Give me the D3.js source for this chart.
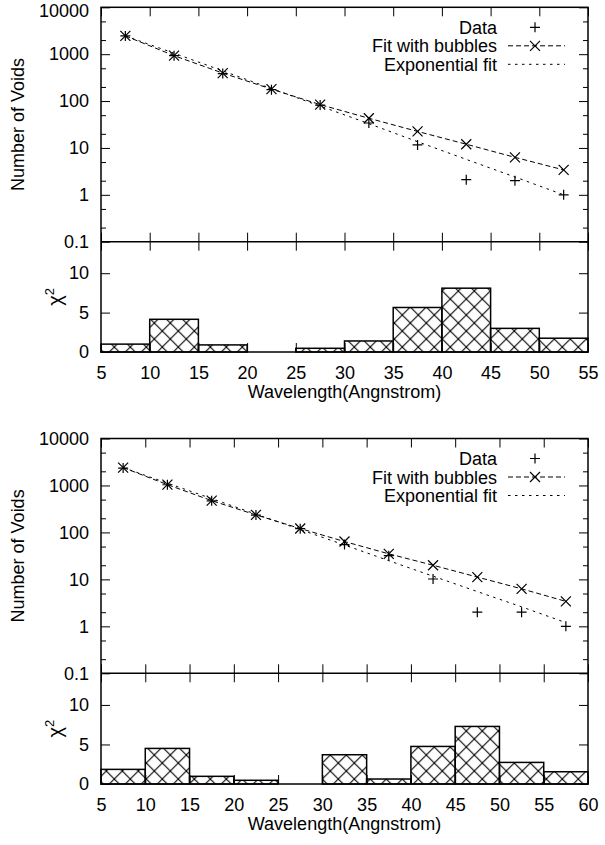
<!DOCTYPE html>
<html>
<head>
<meta charset="utf-8">
<script src="https://cdn.jsdelivr.net/npm/d3@7"></script>
<style>
  body { margin: 0; background: #fff; }
  svg { display: block; font-family: "Liberation Sans", Arial, sans-serif; }
  .axis path.domain { display: none; }
  .axis line { stroke: #000; stroke-width: 1; }
  .axis text { font-size: 18px; fill: #000; font-family: "Liberation Sans", Arial, sans-serif; }
</style>
</head>
<body>
<div id="chart"></div>
<script>
// ---- data ----
// panel A (5..55)
const xA = [7.5, 12.5, 17.5, 22.5, 27.5, 32.5, 37.5, 42.5, 47.5, 52.5];
const dataA = [2450, 930, 385, 175, 82, 34, 11.6, 2.1, 2.0, 1.0];
const bubblesA = [2450, 930, 395, 180, 84, 43, 22.5, 12, 6.3, 3.4];
const expA = [2450, 1050, 440, 185, 78, 33, 13.6, 5.7, 2.4, 1.0];
const binsA = [5, 10, 15, 20, 25, 30, 35, 40, 45, 50];
const chiA = [1.0, 4.15, 0.9, 0, 0.47, 1.4, 5.65, 8.1, 3.0, 1.75];

// panel B (5..60)
const xB = [7.5, 12.5, 17.5, 22.5, 27.5, 32.5, 37.5, 42.5, 47.5, 52.5, 57.5];
const dataB = [2350, 1035, 470, 234, 120, 55, 32, 10.2, 2.0, 2.0, 1.0];
const bubblesB = [2400, 1040, 475, 236, 121, 64, 35, 20, 11.2, 6.3, 3.4];
const expB = [2400, 1120, 525, 245, 115, 54, 25, 11.7, 5.5, 2.6, 1.2];
const binsB = [5, 10, 15, 20, 25, 30, 35, 40, 45, 50, 55];
const chiB = [1.85, 4.5, 0.97, 0.47, 0, 3.7, 0.63, 4.75, 7.28, 2.73, 1.55];

const binWidth = 5;
const logTicks = [0.1, 1, 10, 100, 1000, 10000];
const logMinor = [0.2, 0.5, 2, 5, 20, 50, 200, 500, 2000, 5000];
const chiTicks = [0, 5, 10];
const legendLabels = ["Data", "Fit with bubbles", "Exponential fit"];

const W = 605, H = 845;
const svg = d3.select("#chart").append("svg")
  .attr("width", W).attr("height", H)
  .attr("viewBox", `0 0 ${W} ${H}`);

// crosshatch pattern (16px diamonds, like gnuplot's pattern fill)
const pat = svg.append("defs").append("pattern")
  .attr("id", "hatch")
  .attr("patternUnits", "userSpaceOnUse")
  .attr("x", 2.3).attr("y", 11)
  .attr("width", 16).attr("height", 16);
pat.append("path")
  .attr("d", "M-2,-2L18,18M18,-2L-2,18")
  .attr("stroke", "#000")
  .attr("stroke-width", 1.1)
  .attr("fill", "none");

const drawPanel = (cfg) => {
  const { xs, data, bubbles, expf, bins, chi, xMax, top, mid, bottom, topNudge } = cfg;
  const left = 101, right = 588;

  const x = d3.scaleLinear().domain([5, xMax]).range([left, right]);
  const y = d3.scaleLog().domain([0.1, 10000]).range([mid, top]);
  const yc = d3.scaleLinear().domain([0, 14]).range([bottom, mid]);

  const g = svg.append("g");
  const xTickVals = d3.range(5, xMax + 0.1, 5);

  // chi2 bars
  g.append("g").selectAll("rect")
    .data(bins.map((b, i) => ({ b, v: chi[i] })).filter(d => d.v > 0))
    .join("rect")
    .attr("x", d => x(d.b))
    .attr("width", d => x(d.b + binWidth) - x(d.b))
    .attr("y", d => yc(d.v))
    .attr("height", d => yc(0) - yc(d.v))
    .attr("fill", "url(#hatch)")
    .attr("stroke", "#000")
    .attr("stroke-width", 1.5);

  // axes: log panel
  const yAxisG = g.append("g").attr("class", "axis")
    .attr("transform", `translate(${left},0)`)
    .call(d3.axisLeft(y).tickValues(logTicks).tickSize(-9).tickPadding(12)
      .tickFormat(d => d >= 1 ? d3.format("d")(d) : String(d)));
  // keep the top label inside the page
  yAxisG.selectAll(".tick text").filter(d => d === 10000)
    .attr("y", topNudge);
  g.append("g").attr("class", "axis")
    .attr("transform", `translate(${left},0)`)
    .call(d3.axisLeft(y).tickValues(logMinor).tickSize(-5).tickFormat(""));
  g.append("g").attr("class", "axis")
    .attr("transform", `translate(${right},0)`)
    .call(d3.axisRight(y).tickValues(logTicks).tickSize(-9).tickFormat(""));
  g.append("g").attr("class", "axis")
    .attr("transform", `translate(${right},0)`)
    .call(d3.axisRight(y).tickValues(logMinor).tickSize(-5).tickFormat(""));
  g.append("g").attr("class", "axis")
    .attr("transform", `translate(0,${top})`)
    .call(d3.axisTop(x).tickValues(xTickVals).tickSize(-9).tickFormat(""));
  g.append("g").attr("class", "axis")
    .attr("transform", `translate(0,${mid})`)
    .call(d3.axisBottom(x).tickValues(xTickVals).tickSize(-9).tickFormat(""));

  // axes: chi panel
  g.append("g").attr("class", "axis")
    .attr("transform", `translate(${left},0)`)
    .call(d3.axisLeft(yc).tickValues(chiTicks).tickSize(-9).tickPadding(12));
  g.append("g").attr("class", "axis")
    .attr("transform", `translate(${right},0)`)
    .call(d3.axisRight(yc).tickValues(chiTicks).tickSize(-9).tickFormat(""));
  g.append("g").attr("class", "axis")
    .attr("transform", `translate(0,${mid})`)
    .call(d3.axisTop(x).tickValues(xTickVals).tickSize(-9).tickFormat(""));
  g.append("g").attr("class", "axis")
    .attr("transform", `translate(0,${bottom})`)
    .call(d3.axisBottom(x).tickValues(xTickVals).tickSize(-9).tickPadding(14.5));

  // frames
  g.append("rect")
    .attr("x", left).attr("y", top)
    .attr("width", right - left).attr("height", bottom - top)
    .attr("fill", "none").attr("stroke", "#000").attr("stroke-width", 1.5);
  g.append("line")
    .attr("x1", left).attr("x2", right).attr("y1", mid).attr("y2", mid)
    .attr("stroke", "#000").attr("stroke-width", 1.5);

  // lines
  const line = d3.line().x(d => x(d[0])).y(d => y(d[1]));
  g.append("path")
    .attr("d", line(xs.map((v, i) => [v, expf[i]])))
    .attr("fill", "none").attr("stroke", "#000").attr("stroke-width", 1)
    .attr("stroke-dasharray", "2.5,4.5");
  g.append("path")
    .attr("d", line(xs.map((v, i) => [v, bubbles[i]])))
    .attr("fill", "none").attr("stroke", "#000").attr("stroke-width", 1)
    .attr("stroke-dasharray", "5,3");

  const plus = (sel, s) => sel.attr("d", `M${-s},0H${s}M0,${-s}V${s}`);
  const cross = (sel, s) => sel.attr("d", `M${-s},${-s}L${s},${s}M${-s},${s}L${s},${-s}`);

  g.append("g").selectAll("path")
    .data(xs.map((v, i) => [v, data[i]]))
    .join("path")
    .attr("transform", d => `translate(${x(d[0])},${y(d[1])})`)
    .call(plus, 5)
    .attr("stroke", "#000").attr("stroke-width", 1.2).attr("fill", "none");
  g.append("g").selectAll("path")
    .data(xs.map((v, i) => [v, bubbles[i]]))
    .join("path")
    .attr("transform", d => `translate(${x(d[0])},${y(d[1])})`)
    .call(cross, 5)
    .attr("stroke", "#000").attr("stroke-width", 1.2).attr("fill", "none");

  // legend
  const lg = g.append("g").attr("transform", `translate(0,${top})`);
  legendLabels.forEach((lab, i) => {
    const by = 26.5 + i * 18.5;
    lg.append("text")
      .attr("x", 497).attr("y", by)
      .attr("text-anchor", "end")
      .attr("font-size", 18)
      .text(lab);
    const cy = by - 6.5;
    if (i === 0) {
      lg.append("path").attr("transform", `translate(535,${cy})`).call(plus, 5)
        .attr("stroke", "#000").attr("stroke-width", 1.2);
    } else if (i === 1) {
      lg.append("line").attr("x1", 508).attr("x2", 565).attr("y1", cy).attr("y2", cy)
        .attr("stroke", "#000").attr("stroke-dasharray", "5,3");
      lg.append("path").attr("transform", `translate(535,${cy})`).call(cross, 5)
        .attr("stroke", "#000").attr("stroke-width", 1.2);
    } else {
      lg.append("line").attr("x1", 508).attr("x2", 565).attr("y1", cy).attr("y2", cy)
        .attr("stroke", "#000").attr("stroke-dasharray", "2.5,4.5");
    }
  });

  // axis titles
  g.append("text")
    .attr("transform", `translate(24,${(top + mid) / 2}) rotate(-90)`)
    .attr("text-anchor", "middle")
    .attr("font-size", 18)
    .text("Number of Voids");
  const chiLab = g.append("text")
    .attr("transform", `translate(62,${(mid + bottom) / 2}) rotate(-90)`)
    .attr("text-anchor", "middle")
    .attr("font-size", 20);
  chiLab.append("tspan").text("χ");
  chiLab.append("tspan").attr("dy", -8).attr("font-size", 13).text("2");
  g.append("text")
    .attr("x", (left + right) / 2).attr("y", bottom + 46)
    .attr("text-anchor", "middle")
    .attr("font-size", 18)
    .text("Wavelength(Angnstrom)");
};

drawPanel({ xs: xA, data: dataA, bubbles: bubblesA, expf: expA, bins: binsA, chi: chiA,
  xMax: 55, top: 7.3, mid: 241.7, bottom: 352, topNudge: 3 });
drawPanel({ xs: xB, data: dataB, bubbles: bubblesB, expf: expB, bins: binsB, chi: chiB,
  xMax: 60, top: 438.5, mid: 673.3, bottom: 784, topNudge: 0 });
</script>
</body>
</html>
